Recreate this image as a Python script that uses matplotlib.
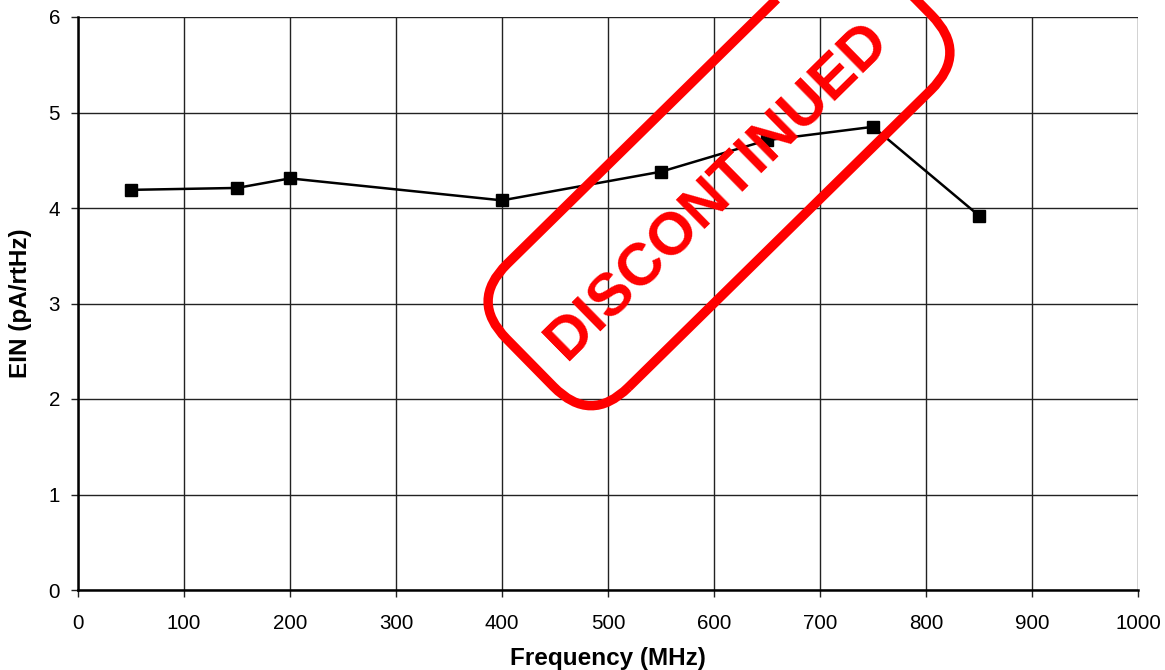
import matplotlib.pyplot as plt
from matplotlib.patches import FancyBboxPatch
from matplotlib.transforms import Affine2D

DPI = 100

freq_mhz = [50, 150, 200, 400, 550, 650, 750, 850]
ein = [4.19, 4.21, 4.31, 4.08, 4.38, 4.71, 4.85, 3.92]

x_ticks = list(range(0, 1001, 100))
y_ticks = list(range(0, 7))

plt.rcParams['font.family'] = ['Liberation Sans', 'DejaVu Sans']

fig = plt.figure(figsize=(11.65, 6.70), dpi=DPI)
ax = fig.add_axes([78 / 1165, 80 / 670, 1060 / 1165, 573 / 670])

ax.plot(freq_mhz, ein, '-s', color='black', lw=1.8, markersize=8, zorder=3)

ax.set_xlim(0, 1000)
ax.set_ylim(0, 6)
ax.set_xticks(x_ticks)
ax.set_yticks(y_ticks)
ax.grid(True, color='#222222', lw=1.0)
ax.tick_params(labelsize=14.8, direction='out', length=5, width=1, color='#222222')
ax.tick_params(axis='x', pad=12)
ax.tick_params(axis='y', pad=8)
for side in ['top', 'right']:
    ax.spines[side].set_visible(False)
for side in ['left', 'bottom']:
    ax.spines[side].set_linewidth(1.8)
ax.set_xlabel('Frequency (MHz)', fontsize=17.5, fontweight='bold', labelpad=10)
ax.set_ylabel('EIN (pA/rtHz)', fontsize=17.5, fontweight='bold', labelpad=12)

# "DISCONTINUED" stamp, placed in pixel coordinates
cx, cy = 719, 670 - 177
angle = 44.5
w, h = 530, 173
rot = Affine2D().rotate_deg_around(cx, cy, angle)
stamp = FancyBboxPatch((cx - w / 2, cy - h / 2), w, h,
                       boxstyle='round,pad=0,rounding_size=53',
                       fill=False, edgecolor='#ff0000', lw=6.8,
                       transform=rot, zorder=5, clip_on=False)
fig.patches.append(stamp)
fig.text(718 / 1165, (670 - 191) / 670, 'DISCONTINUED', color='#ff0000', fontsize=43,
         fontweight='bold', rotation=angle, rotation_mode='anchor',
         ha='center', va='center', zorder=6)

plt.savefig('out.png', dpi=DPI)
